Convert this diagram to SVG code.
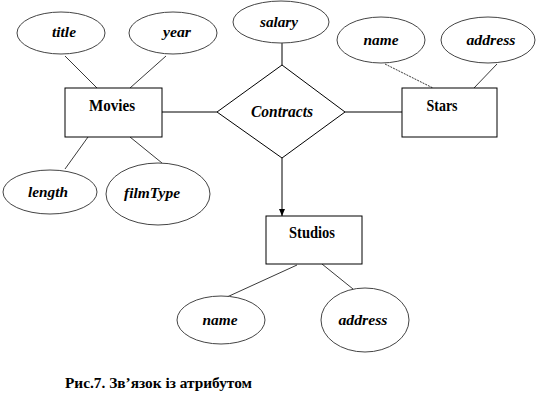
<svg xmlns="http://www.w3.org/2000/svg" width="546" height="411" viewBox="0 0 546 411">
<style>
.att{fill:#fff;stroke:#444;stroke-width:1}
.ent{fill:#fff;stroke:#000;stroke-width:1}
.ln{stroke:#000;stroke-width:1;fill:none}
.al{stroke:#222;stroke-width:0.9;fill:none}
.at{font-style:italic;font-weight:bold;font-size:15px;text-anchor:middle}
.et{font-weight:bold;font-size:16px;text-anchor:middle}
.cap{font-weight:bold;font-size:14px}
</style>
<defs>
<marker id="arr" markerWidth="8" markerHeight="8" refX="7" refY="4" orient="auto" markerUnits="userSpaceOnUse">
<path d="M0,1 L7,4 L0,7 Z" fill="#000"/>
</marker>
</defs>
<rect width="546" height="411" fill="#fff"/>
<g id="connectors">
<line class="al" x1="65" y1="56" x2="97" y2="88"/>
<line class="al" x1="166" y1="56" x2="130" y2="88"/>
<line class="al" x1="88" y1="137" x2="65" y2="169"/>
<line class="al" x1="130" y1="137" x2="162" y2="163"/>
<line class="ln" x1="162" y1="112" x2="217" y2="112"/>
<line class="ln" x1="282" y1="43" x2="282" y2="65"/>
<line class="ln" x1="345" y1="112" x2="402" y2="112"/>
<line class="al" x1="385" y1="64" x2="433" y2="88" stroke-dasharray="2,1"/>
<line class="al" x1="497" y1="64" x2="474" y2="88"/>
<line class="ln" x1="282" y1="158" x2="282" y2="216" marker-end="url(#arr)"/>
<line class="al" x1="297" y1="265" x2="227" y2="297"/>
<line class="al" x1="322" y1="264" x2="353" y2="289"/>
</g>
<g font-family="Liberation Serif, Times New Roman, serif">
<g id="title"><ellipse class="att" cx="61" cy="33" rx="44" ry="21"/><text class="at" x="64" y="37" textLength="24" lengthAdjust="spacingAndGlyphs">title</text></g>
<g id="year"><ellipse class="att" cx="173" cy="33" rx="44" ry="21"/><text class="at" x="177" y="37" textLength="28" lengthAdjust="spacingAndGlyphs">year</text></g>
<g id="salary"><ellipse class="att" cx="281" cy="22" rx="48" ry="21"/><text class="at" x="279" y="27" textLength="38" lengthAdjust="spacingAndGlyphs">salary</text></g>
<g id="stars_name"><ellipse class="att" cx="381" cy="40" rx="44" ry="23"/><text class="at" x="381" y="45" textLength="35" lengthAdjust="spacingAndGlyphs">name</text></g>
<g id="stars_address"><ellipse class="att" cx="488" cy="40" rx="47" ry="23"/><text class="at" x="491" y="45" textLength="49" lengthAdjust="spacingAndGlyphs">address</text></g>
<g id="Movies"><rect class="ent" x="65" y="88" width="97" height="49"/><text class="et" x="112" y="111" textLength="46" lengthAdjust="spacingAndGlyphs">Movies</text></g>
<g id="Contracts"><polygon class="ent" points="217,112 282,65 345,112 282,158"/><text class="at" x="282" y="117" style="font-size:16px" textLength="62" lengthAdjust="spacingAndGlyphs">Contracts</text></g>
<g id="Stars"><rect class="ent" x="402" y="88" width="95" height="49"/><text class="et" x="442" y="111" textLength="31" lengthAdjust="spacingAndGlyphs">Stars</text></g>
<g id="length"><ellipse class="att" cx="50" cy="192" rx="47" ry="22"/><text class="at" x="48" y="197" textLength="40" lengthAdjust="spacingAndGlyphs">length</text></g>
<g id="filmType"><ellipse class="att" cx="158" cy="194" rx="52" ry="31"/><text class="at" x="152" y="198" textLength="56" lengthAdjust="spacingAndGlyphs">filmType</text></g>
<g id="Studios"><rect class="ent" x="266" y="216" width="96" height="48"/><text class="et" x="312" y="238" textLength="46" lengthAdjust="spacingAndGlyphs">Studios</text></g>
<g id="studios_name"><ellipse class="att" cx="221" cy="320" rx="44" ry="24"/><text class="at" x="220" y="325" textLength="35" lengthAdjust="spacingAndGlyphs">name</text></g>
<g id="studios_address"><ellipse class="att" cx="365" cy="320" rx="44" ry="32"/><text class="at" x="363" y="325" textLength="49" lengthAdjust="spacingAndGlyphs">address</text></g>
<text class="cap" x="65" y="388" textLength="187" lengthAdjust="spacingAndGlyphs">Рис.7. Зв’язок із атрибутом</text>
</g>
</svg>
